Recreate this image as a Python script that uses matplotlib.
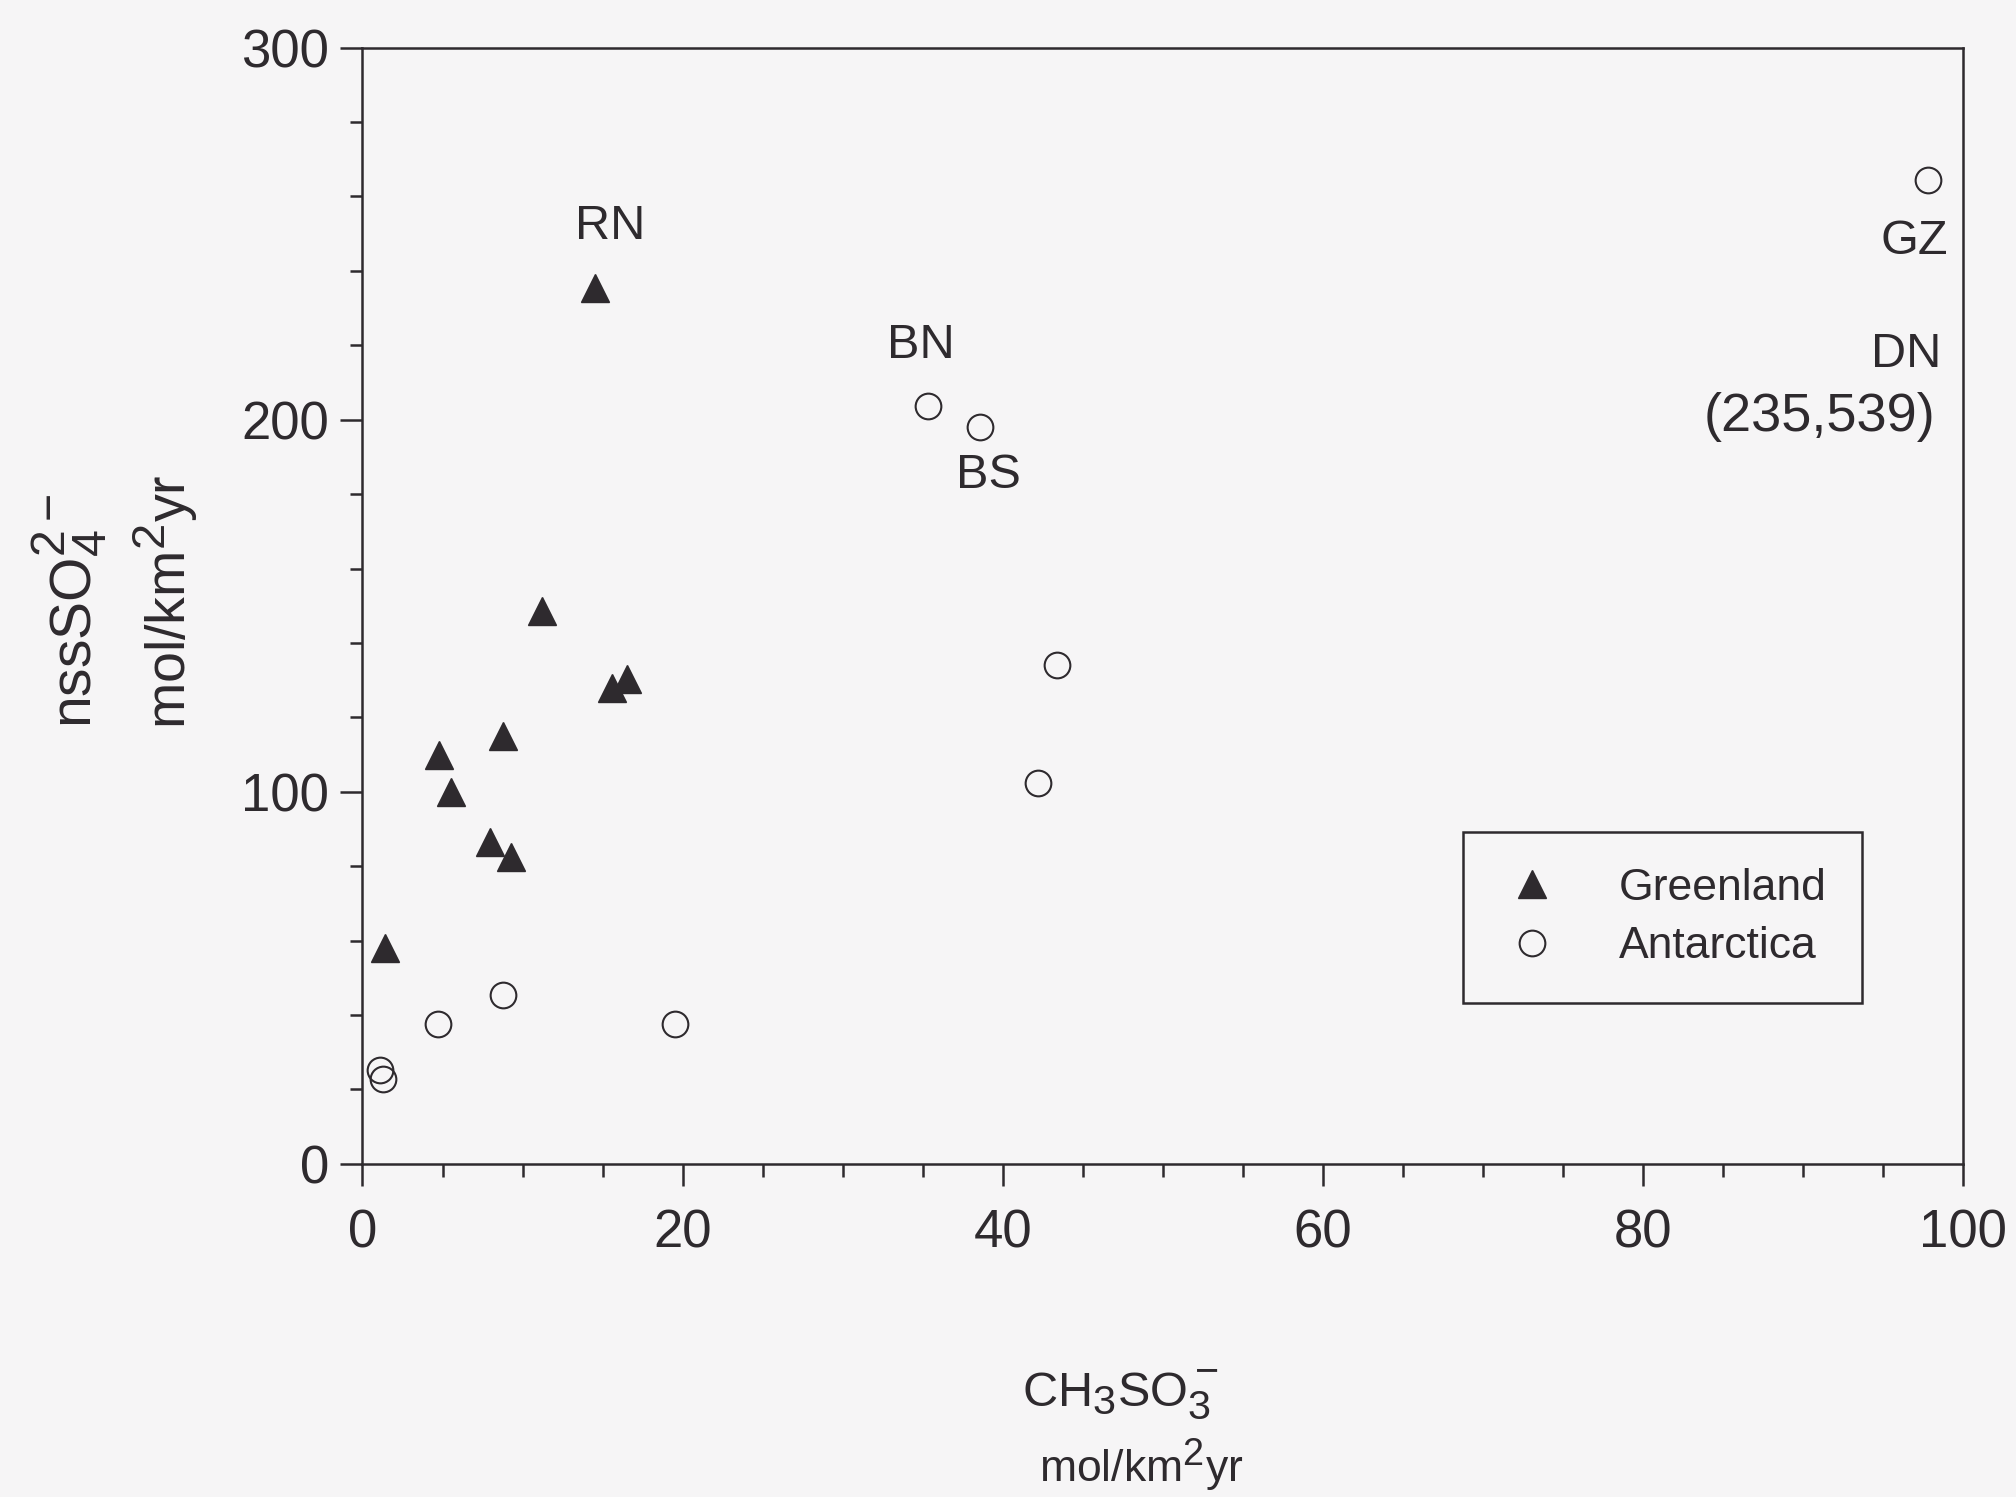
import matplotlib
matplotlib.use("Agg")
import matplotlib.pyplot as plt
import matplotlib._mathtext as mathtext_internal
from matplotlib.ticker import MultipleLocator

plt.rcParams['font.family'] = ['Liberation Sans', 'DejaVu Sans']
plt.rcParams['mathtext.fontset'] = 'custom'
plt.rcParams['mathtext.rm'] = 'Liberation Sans'
plt.rcParams['mathtext.it'] = 'Liberation Sans'
plt.rcParams['mathtext.default'] = 'regular'
# the original uses near full-size sub/superscripts
mathtext_internal.SHRINK_FACTOR = 0.85

# Greenland sites (filled triangles)
green_msa = [14.5, 11.2, 15.6, 16.5, 8.75, 4.8, 5.5, 7.95, 9.3, 1.4]
green_so4 = [235.4, 148.6, 127.9, 130.3, 115.1, 109.9, 99.9, 86.4, 82.6, 58.1]

# Antarctica sites (open circles)
ant_msa = [97.8, 35.3, 38.6, 43.4, 42.2, 8.75, 4.7, 19.5, 1.1, 1.3]
ant_so4 = [264.4, 203.6, 198.1, 134.1, 102.3, 45.3, 37.7, 37.7, 25.2, 22.8]

# site labels
site_names = ['RN', 'BN', 'BS', 'GZ', 'DN', '(235,539)']
site_x = [15.5, 34.9, 39.1, 96.9, 96.4, 91.0]
site_y = [252, 220, 185, 247.8, 217.4, 200.8]
site_size = [35, 35, 35, 35, 35, 39]

ink = '#2e2a2e'
bg = '#f6f5f6'

fig = plt.figure(figsize=(20.16, 14.97), dpi=100, facecolor=bg)
ax = fig.add_axes([0.1798, 0.2225, 0.7941, 0.7457])
ax.set_facecolor(bg)

ax.plot(green_msa, green_so4, linestyle='none', marker='^', markersize=20,
        color=ink, label='Greenland')
ax.plot(ant_msa, ant_so4, linestyle='none', marker='o', markersize=18.5,
        markerfacecolor='none', markeredgecolor=ink, markeredgewidth=1.5,
        label='Antarctica')

for name, x, y, fs in zip(site_names, site_x, site_y, site_size):
    ax.text(x, y, name, fontsize=fs, color=ink, ha='center', va='center')

ax.set_xlim(0, 100)
ax.set_ylim(0, 300)
ax.xaxis.set_major_locator(MultipleLocator(20))
ax.xaxis.set_minor_locator(MultipleLocator(5))
ax.yaxis.set_major_locator(MultipleLocator(100))
ax.yaxis.set_minor_locator(MultipleLocator(20))
ax.tick_params(which='major', direction='out', length=16, width=1.8,
               labelsize=38, colors=ink)
ax.tick_params(axis='x', which='major', pad=16)
ax.tick_params(axis='y', which='major', pad=8)
ax.tick_params(which='minor', direction='out', length=9, width=1.8, colors=ink)
for s in ax.spines.values():
    s.set_color(ink)
    s.set_linewidth(1.8)

leg = ax.legend(loc='upper left', bbox_to_anchor=(0.6876, 0.2972), fontsize=32,
                frameon=True, fancybox=False, edgecolor=ink, facecolor=bg,
                framealpha=1, handletextpad=1.2, borderpad=0.8,
                labelspacing=0.4, handlelength=1.5, borderaxespad=0)
leg.get_frame().set_linewidth(1.8)
for t in leg.get_texts():
    t.set_color(ink)

fig.text(0.556, 0.068, r'CH$_3$SO$_3^-$', fontsize=35, color=ink,
         ha='center', va='center')
fig.text(0.566, 0.021, r'mol/km$^2$yr', fontsize=32, color=ink,
         ha='center', va='center')
fig.text(0.034, 0.592, r'nssSO$_4^{2-}$', fontsize=41, color=ink,
         ha='center', va='center', rotation=90)
fig.text(0.082, 0.598, r'mol/km$^2$yr', fontsize=40, color=ink,
         ha='center', va='center', rotation=90)

fig.savefig('out.png', dpi=100, facecolor=bg)
